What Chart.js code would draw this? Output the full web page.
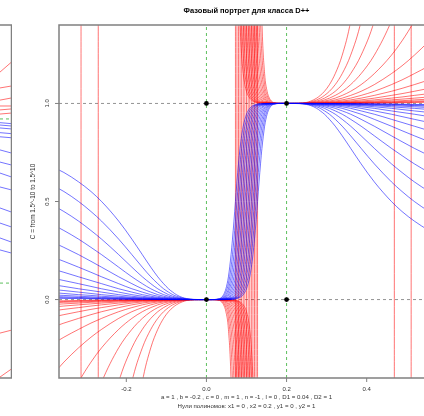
<!DOCTYPE html>
<html>
<head>
<meta charset="utf-8">
<script src="https://cdn.jsdelivr.net/npm/chart.js@4.4.0/dist/chart.umd.min.js"></script>
<style>
  html, body { margin: 0; padding: 0; background: #fff; width: 424px; height: 416px; overflow: hidden; }
  #side { position: absolute; left: 0; top: 0; }
  #chart { position: absolute; left: 0; top: 0; }
</style>
</head>
<body>
<canvas id="side" width="12" height="416"></canvas>
<canvas id="chart" width="460" height="416"></canvas>
<script>
// exponents of C (C = +/- 1.5^k), one red and one blue curve per value
const cPowers = [-7, -6, -5, -4, -3, -2, -1, 0, 1, 2, 3, 4, 5, 6, 7];

// x < 0
const xsLeft = [-0.4, -0.3558, -0.3191, -0.2882, -0.2617, -0.219, -0.1861, -0.16, -0.1389, -0.1215, -0.107,
  -0.0947, -0.0842, -0.0752, -0.0605, -0.0492, -0.0404, -0.0303, -0.0193, -0.0081, -0.0035, 0];

const blueLeft = [
  [0.692, 0.648, 0.6, 0.551, 0.5, 0.4, 0.308, 0.229, 0.165, 0.116, 0.081, 0.055, 0.038, 0.025, 0.011, 0.005, 0.002, 0.001, 0, 0, 0, 0],
  [0.6, 0.551, 0.5, 0.449, 0.4, 0.308, 0.229, 0.165, 0.116, 0.081, 0.055, 0.038, 0.025, 0.017, 0.008, 0.003, 0.002, 0, 0, 0, 0, 0],
  [0.5, 0.449, 0.4, 0.352, 0.308, 0.229, 0.165, 0.116, 0.081, 0.055, 0.038, 0.025, 0.017, 0.011, 0.005, 0.002, 0.001, 0, 0, 0, 0, 0],
  [0.4, 0.352, 0.308, 0.266, 0.229, 0.165, 0.116, 0.081, 0.055, 0.038, 0.025, 0.017, 0.011, 0.008, 0.003, 0.002, 0.001, 0, 0, 0, 0, 0],
  [0.308, 0.266, 0.229, 0.195, 0.165, 0.116, 0.081, 0.055, 0.038, 0.025, 0.017, 0.011, 0.008, 0.005, 0.002, 0.001, 0, 0, 0, 0, 0, 0],
  [0.229, 0.195, 0.165, 0.139, 0.116, 0.081, 0.055, 0.038, 0.025, 0.017, 0.011, 0.008, 0.005, 0.003, 0.002, 0.001, 0, 0, 0, 0, 0, 0],
  [0.165, 0.139, 0.116, 0.097, 0.081, 0.055, 0.038, 0.025, 0.017, 0.011, 0.008, 0.005, 0.003, 0.002, 0.001, 0, 0, 0, 0, 0, 0, 0],
  [0.116, 0.097, 0.081, 0.067, 0.055, 0.038, 0.025, 0.017, 0.011, 0.008, 0.005, 0.003, 0.002, 0.002, 0.001, 0, 0, 0, 0, 0, 0, 0],
  [0.081, 0.067, 0.055, 0.046, 0.038, 0.025, 0.017, 0.011, 0.008, 0.005, 0.003, 0.002, 0.002, 0.001, 0, 0, 0, 0, 0, 0, 0, 0],
  [0.055, 0.046, 0.038, 0.031, 0.025, 0.017, 0.011, 0.008, 0.005, 0.003, 0.002, 0.002, 0.001, 0.001, 0, 0, 0, 0, 0, 0, 0, 0],
  [0.038, 0.031, 0.025, 0.021, 0.017, 0.011, 0.008, 0.005, 0.003, 0.002, 0.002, 0.001, 0.001, 0, 0, 0, 0, 0, 0, 0, 0, 0],
  [0.025, 0.021, 0.017, 0.014, 0.011, 0.008, 0.005, 0.003, 0.002, 0.002, 0.001, 0.001, 0, 0, 0, 0, 0, 0, 0, 0, 0, 0],
  [0.017, 0.014, 0.011, 0.009, 0.008, 0.005, 0.003, 0.002, 0.002, 0.001, 0.001, 0, 0, 0, 0, 0, 0, 0, 0, 0, 0, 0],
  [0.011, 0.009, 0.008, 0.006, 0.005, 0.003, 0.002, 0.002, 0.001, 0.001, 0, 0, 0, 0, 0, 0, 0, 0, 0, 0, 0, 0],
  [0.008, 0.006, 0.005, 0.004, 0.003, 0.002, 0.002, 0.001, 0.001, 0, 0, 0, 0, 0, 0, 0, 0, 0, 0, 0, 0, 0]
];

const redLeft = [
  [1.8, 2.194, 3, 5.45, null, -2, -0.8, -0.421, -0.246, -0.152, -0.096, -0.062, -0.041, -0.027, -0.012, -0.005, -0.002, -0.001, 0, 0, 0, 0],
  [3, 5.45, null, -4.45, -2, -0.8, -0.421, -0.246, -0.152, -0.096, -0.062, -0.041, -0.027, -0.018, -0.008, -0.003, -0.002, 0, 0, 0, 0, 0],
  [null, -4.45, -2, -1.195, -0.8, -0.421, -0.246, -0.152, -0.096, -0.062, -0.041, -0.027, -0.018, -0.012, -0.005, -0.002, -0.001, 0, 0, 0, 0, 0],
  [-2, -1.195, -0.8, -0.57, -0.421, -0.246, -0.152, -0.096, -0.062, -0.041, -0.027, -0.018, -0.012, -0.008, -0.003, -0.002, -0.001, 0, 0, 0, 0, 0],
  [-0.8, -0.57, -0.421, -0.319, -0.246, -0.152, -0.096, -0.062, -0.041, -0.027, -0.018, -0.012, -0.008, -0.005, -0.002, -0.001, 0, 0, 0, 0, 0, 0],
  [-0.421, -0.319, -0.246, -0.192, -0.152, -0.096, -0.062, -0.041, -0.027, -0.018, -0.012, -0.008, -0.005, -0.003, -0.002, -0.001, 0, 0, 0, 0, 0, 0],
  [-0.246, -0.192, -0.152, -0.12, -0.096, -0.062, -0.041, -0.027, -0.018, -0.012, -0.008, -0.005, -0.003, -0.002, -0.001, 0, 0, 0, 0, 0, 0, 0],
  [-0.152, -0.12, -0.096, -0.077, -0.062, -0.041, -0.027, -0.018, -0.012, -0.008, -0.005, -0.003, -0.002, -0.002, -0.001, 0, 0, 0, 0, 0, 0, 0],
  [-0.096, -0.077, -0.062, -0.05, -0.041, -0.027, -0.018, -0.012, -0.008, -0.005, -0.003, -0.002, -0.002, -0.001, 0, 0, 0, 0, 0, 0, 0, 0],
  [-0.062, -0.05, -0.041, -0.033, -0.027, -0.018, -0.012, -0.008, -0.005, -0.003, -0.002, -0.002, -0.001, -0.001, 0, 0, 0, 0, 0, 0, 0, 0],
  [-0.041, -0.033, -0.027, -0.022, -0.018, -0.012, -0.008, -0.005, -0.003, -0.002, -0.002, -0.001, -0.001, 0, 0, 0, 0, 0, 0, 0, 0, 0],
  [-0.027, -0.022, -0.018, -0.014, -0.012, -0.008, -0.005, -0.003, -0.002, -0.002, -0.001, -0.001, 0, 0, 0, 0, 0, 0, 0, 0, 0, 0],
  [-0.018, -0.014, -0.012, -0.01, -0.008, -0.005, -0.003, -0.002, -0.002, -0.001, -0.001, 0, 0, 0, 0, 0, 0, 0, 0, 0, 0, 0],
  [-0.012, -0.01, -0.008, -0.006, -0.005, -0.003, -0.002, -0.002, -0.001, -0.001, 0, 0, 0, 0, 0, 0, 0, 0, 0, 0, 0, 0],
  [-0.008, -0.006, -0.005, -0.004, -0.003, -0.002, -0.002, -0.001, -0.001, 0, 0, 0, 0, 0, 0, 0, 0, 0, 0, 0, 0, 0]
];

// 0 < x < 0.2
const xsMid = [0, 0.0161, 0.033, 0.0377, 0.0429, 0.0486, 0.0549, 0.0615, 0.065, 0.0687, 0.0724, 0.0761, 0.08, 0.0839,
  0.0879, 0.0919, 0.096, 0.1, 0.104, 0.1081, 0.1121, 0.1161, 0.12, 0.1239, 0.1276, 0.1313, 0.135, 0.1385, 0.1452,
  0.1514, 0.1571, 0.1623, 0.167, 0.1839, 0.2];

const blueMid = [
  [0, 0, 0.005, 0.011, 0.025, 0.055, 0.116, 0.229, 0.308, 0.4, 0.5, 0.6, 0.692, 0.771, 0.835, 0.884, 0.919, 0.945, 0.962, 0.975, 0.983, 0.989, 0.992, 0.995, 0.997, 0.998, 0.998, 0.999, 1, 1, 1, 1, 1, 1, 1],
  [0, 0, 0.003, 0.008, 0.017, 0.038, 0.081, 0.165, 0.229, 0.308, 0.4, 0.5, 0.6, 0.692, 0.771, 0.835, 0.884, 0.919, 0.945, 0.962, 0.975, 0.983, 0.989, 0.992, 0.995, 0.997, 0.998, 0.998, 0.999, 1, 1, 1, 1, 1, 1],
  [0, 0, 0.002, 0.005, 0.011, 0.025, 0.055, 0.116, 0.165, 0.229, 0.308, 0.4, 0.5, 0.6, 0.692, 0.771, 0.835, 0.884, 0.919, 0.945, 0.962, 0.975, 0.983, 0.989, 0.992, 0.995, 0.997, 0.998, 0.999, 1, 1, 1, 1, 1, 1],
  [0, 0, 0.002, 0.003, 0.008, 0.017, 0.038, 0.081, 0.116, 0.165, 0.229, 0.308, 0.4, 0.5, 0.6, 0.692, 0.771, 0.835, 0.884, 0.919, 0.945, 0.962, 0.975, 0.983, 0.989, 0.992, 0.995, 0.997, 0.998, 0.999, 1, 1, 1, 1, 1],
  [0, 0, 0.001, 0.002, 0.005, 0.011, 0.025, 0.055, 0.081, 0.116, 0.165, 0.229, 0.308, 0.4, 0.5, 0.6, 0.692, 0.771, 0.835, 0.884, 0.919, 0.945, 0.962, 0.975, 0.983, 0.989, 0.992, 0.995, 0.998, 0.999, 1, 1, 1, 1, 1],
  [0, 0, 0.001, 0.002, 0.003, 0.008, 0.017, 0.038, 0.055, 0.081, 0.116, 0.165, 0.229, 0.308, 0.4, 0.5, 0.6, 0.692, 0.771, 0.835, 0.884, 0.919, 0.945, 0.962, 0.975, 0.983, 0.989, 0.992, 0.997, 0.998, 0.999, 1, 1, 1, 1],
  [0, 0, 0, 0.001, 0.002, 0.005, 0.011, 0.025, 0.038, 0.055, 0.081, 0.116, 0.165, 0.229, 0.308, 0.4, 0.5, 0.6, 0.692, 0.771, 0.835, 0.884, 0.919, 0.945, 0.962, 0.975, 0.983, 0.989, 0.995, 0.998, 0.999, 1, 1, 1, 1],
  [0, 0, 0, 0.001, 0.002, 0.003, 0.008, 0.017, 0.025, 0.038, 0.055, 0.081, 0.116, 0.165, 0.229, 0.308, 0.4, 0.5, 0.6, 0.692, 0.771, 0.835, 0.884, 0.919, 0.945, 0.962, 0.975, 0.983, 0.992, 0.997, 0.998, 0.999, 1, 1, 1],
  [0, 0, 0, 0, 0.001, 0.002, 0.005, 0.011, 0.017, 0.025, 0.038, 0.055, 0.081, 0.116, 0.165, 0.229, 0.308, 0.4, 0.5, 0.6, 0.692, 0.771, 0.835, 0.884, 0.919, 0.945, 0.962, 0.975, 0.989, 0.995, 0.998, 0.999, 1, 1, 1],
  [0, 0, 0, 0, 0.001, 0.002, 0.003, 0.008, 0.011, 0.017, 0.025, 0.038, 0.055, 0.081, 0.116, 0.165, 0.229, 0.308, 0.4, 0.5, 0.6, 0.692, 0.771, 0.835, 0.884, 0.919, 0.945, 0.962, 0.983, 0.992, 0.997, 0.998, 0.999, 1, 1],
  [0, 0, 0, 0, 0, 0.001, 0.002, 0.005, 0.008, 0.011, 0.017, 0.025, 0.038, 0.055, 0.081, 0.116, 0.165, 0.229, 0.308, 0.4, 0.5, 0.6, 0.692, 0.771, 0.835, 0.884, 0.919, 0.945, 0.975, 0.989, 0.995, 0.998, 0.999, 1, 1],
  [0, 0, 0, 0, 0, 0.001, 0.002, 0.003, 0.005, 0.008, 0.011, 0.017, 0.025, 0.038, 0.055, 0.081, 0.116, 0.165, 0.229, 0.308, 0.4, 0.5, 0.6, 0.692, 0.771, 0.835, 0.884, 0.919, 0.962, 0.983, 0.992, 0.997, 0.998, 1, 1],
  [0, 0, 0, 0, 0, 0, 0.001, 0.002, 0.003, 0.005, 0.008, 0.011, 0.017, 0.025, 0.038, 0.055, 0.081, 0.116, 0.165, 0.229, 0.308, 0.4, 0.5, 0.6, 0.692, 0.771, 0.835, 0.884, 0.945, 0.975, 0.989, 0.995, 0.998, 1, 1],
  [0, 0, 0, 0, 0, 0, 0.001, 0.002, 0.002, 0.003, 0.005, 0.008, 0.011, 0.017, 0.025, 0.038, 0.055, 0.081, 0.116, 0.165, 0.229, 0.308, 0.4, 0.5, 0.6, 0.692, 0.771, 0.835, 0.919, 0.962, 0.983, 0.992, 0.997, 1, 1],
  [0, 0, 0, 0, 0, 0, 0, 0.001, 0.002, 0.002, 0.003, 0.005, 0.008, 0.011, 0.017, 0.025, 0.038, 0.055, 0.081, 0.116, 0.165, 0.229, 0.308, 0.4, 0.5, 0.6, 0.692, 0.771, 0.884, 0.945, 0.975, 0.989, 0.995, 1, 1]
];

const redMid = [
  [0, 0, -0.005, -0.012, -0.027, -0.062, -0.152, -0.421, -0.8, -2, null, 3, 1.8, 1.421, 1.246, 1.152, 1.096, 1.062, 1.041, 1.027, 1.018, 1.012, 1.008, 1.005, 1.003, 1.002, 1.002, 1.001, 1, 1, 1, 1, 1, 1, 1],
  [0, 0, -0.003, -0.008, -0.018, -0.041, -0.096, -0.246, -0.421, -0.8, -2, null, 3, 1.8, 1.421, 1.246, 1.152, 1.096, 1.062, 1.041, 1.027, 1.018, 1.012, 1.008, 1.005, 1.003, 1.002, 1.002, 1.001, 1, 1, 1, 1, 1, 1],
  [0, 0, -0.002, -0.005, -0.012, -0.027, -0.062, -0.152, -0.246, -0.421, -0.8, -2, null, 3, 1.8, 1.421, 1.246, 1.152, 1.096, 1.062, 1.041, 1.027, 1.018, 1.012, 1.008, 1.005, 1.003, 1.002, 1.001, 1, 1, 1, 1, 1, 1],
  [0, 0, -0.002, -0.003, -0.008, -0.018, -0.041, -0.096, -0.152, -0.246, -0.421, -0.8, -2, null, 3, 1.8, 1.421, 1.246, 1.152, 1.096, 1.062, 1.041, 1.027, 1.018, 1.012, 1.008, 1.005, 1.003, 1.002, 1.001, 1, 1, 1, 1, 1],
  [0, 0, -0.001, -0.002, -0.005, -0.012, -0.027, -0.062, -0.096, -0.152, -0.246, -0.421, -0.8, -2, null, 3, 1.8, 1.421, 1.246, 1.152, 1.096, 1.062, 1.041, 1.027, 1.018, 1.012, 1.008, 1.005, 1.002, 1.001, 1, 1, 1, 1, 1],
  [0, 0, -0.001, -0.002, -0.003, -0.008, -0.018, -0.041, -0.062, -0.096, -0.152, -0.246, -0.421, -0.8, -2, null, 3, 1.8, 1.421, 1.246, 1.152, 1.096, 1.062, 1.041, 1.027, 1.018, 1.012, 1.008, 1.003, 1.002, 1.001, 1, 1, 1, 1],
  [0, 0, 0, -0.001, -0.002, -0.005, -0.012, -0.027, -0.041, -0.062, -0.096, -0.152, -0.246, -0.421, -0.8, -2, null, 3, 1.8, 1.421, 1.246, 1.152, 1.096, 1.062, 1.041, 1.027, 1.018, 1.012, 1.005, 1.002, 1.001, 1, 1, 1, 1],
  [0, 0, 0, -0.001, -0.002, -0.003, -0.008, -0.018, -0.027, -0.041, -0.062, -0.096, -0.152, -0.246, -0.421, -0.8, -2, null, 3, 1.8, 1.421, 1.246, 1.152, 1.096, 1.062, 1.041, 1.027, 1.018, 1.008, 1.003, 1.002, 1.001, 1, 1, 1],
  [0, 0, 0, 0, -0.001, -0.002, -0.005, -0.012, -0.018, -0.027, -0.041, -0.062, -0.096, -0.152, -0.246, -0.421, -0.8, -2, null, 3, 1.8, 1.421, 1.246, 1.152, 1.096, 1.062, 1.041, 1.027, 1.012, 1.005, 1.002, 1.001, 1, 1, 1],
  [0, 0, 0, 0, -0.001, -0.002, -0.003, -0.008, -0.012, -0.018, -0.027, -0.041, -0.062, -0.096, -0.152, -0.246, -0.421, -0.8, -2, null, 3, 1.8, 1.421, 1.246, 1.152, 1.096, 1.062, 1.041, 1.018, 1.008, 1.003, 1.002, 1.001, 1, 1],
  [0, 0, 0, 0, 0, -0.001, -0.002, -0.005, -0.008, -0.012, -0.018, -0.027, -0.041, -0.062, -0.096, -0.152, -0.246, -0.421, -0.8, -2, null, 3, 1.8, 1.421, 1.246, 1.152, 1.096, 1.062, 1.027, 1.012, 1.005, 1.002, 1.001, 1, 1],
  [0, 0, 0, 0, 0, -0.001, -0.002, -0.003, -0.005, -0.008, -0.012, -0.018, -0.027, -0.041, -0.062, -0.096, -0.152, -0.246, -0.421, -0.8, -2, null, 3, 1.8, 1.421, 1.246, 1.152, 1.096, 1.041, 1.018, 1.008, 1.003, 1.002, 1, 1],
  [0, 0, 0, 0, 0, 0, -0.001, -0.002, -0.003, -0.005, -0.008, -0.012, -0.018, -0.027, -0.041, -0.062, -0.096, -0.152, -0.246, -0.421, -0.8, -2, null, 3, 1.8, 1.421, 1.246, 1.152, 1.062, 1.027, 1.012, 1.005, 1.002, 1, 1],
  [0, 0, 0, 0, 0, 0, -0.001, -0.002, -0.002, -0.003, -0.005, -0.008, -0.012, -0.018, -0.027, -0.041, -0.062, -0.096, -0.152, -0.246, -0.421, -0.8, -2, null, 3, 1.8, 1.421, 1.246, 1.096, 1.041, 1.018, 1.008, 1.003, 1, 1],
  [0, 0, 0, 0, 0, 0, 0, -0.001, -0.002, -0.002, -0.003, -0.005, -0.008, -0.012, -0.018, -0.027, -0.041, -0.062, -0.096, -0.152, -0.246, -0.421, -0.8, -2, null, 3, 1.8, 1.421, 1.152, 1.062, 1.027, 1.012, 1.005, 1, 1]
];

// x > 0.2
const xsRight = [0.2, 0.2081, 0.2192, 0.2303, 0.2404, 0.2492, 0.2605, 0.2752, 0.2842, 0.2947, 0.307, 0.3215,
  0.3389, 0.36, 0.3861, 0.419, 0.4618, 0.4882, 0.519, 0.5558, 0.6];

const blueRight = [
  [1, 1, 1, 1, 1, 1, 1, 1, 1, 1, 1, 1, 0.999, 0.999, 0.998, 0.998, 0.997, 0.996, 0.995, 0.994, 0.992],
  [1, 1, 1, 1, 1, 1, 1, 1, 1, 1, 1, 0.999, 0.999, 0.998, 0.998, 0.997, 0.995, 0.994, 0.992, 0.991, 0.989],
  [1, 1, 1, 1, 1, 1, 1, 1, 1, 1, 0.999, 0.999, 0.998, 0.998, 0.997, 0.995, 0.992, 0.991, 0.989, 0.986, 0.983],
  [1, 1, 1, 1, 1, 1, 1, 1, 1, 0.999, 0.999, 0.998, 0.998, 0.997, 0.995, 0.992, 0.989, 0.986, 0.983, 0.979, 0.975],
  [1, 1, 1, 1, 1, 1, 1, 1, 0.999, 0.999, 0.998, 0.998, 0.997, 0.995, 0.992, 0.989, 0.983, 0.979, 0.975, 0.969, 0.962],
  [1, 1, 1, 1, 1, 1, 1, 0.999, 0.999, 0.998, 0.998, 0.997, 0.995, 0.992, 0.989, 0.983, 0.975, 0.969, 0.962, 0.954, 0.945],
  [1, 1, 1, 1, 1, 1, 1, 0.999, 0.998, 0.998, 0.997, 0.995, 0.992, 0.989, 0.983, 0.975, 0.962, 0.954, 0.945, 0.933, 0.919],
  [1, 1, 1, 1, 1, 1, 0.999, 0.998, 0.998, 0.997, 0.995, 0.992, 0.989, 0.983, 0.975, 0.962, 0.945, 0.933, 0.919, 0.903, 0.884],
  [1, 1, 1, 1, 1, 1, 0.999, 0.998, 0.997, 0.995, 0.992, 0.989, 0.983, 0.975, 0.962, 0.945, 0.919, 0.903, 0.884, 0.861, 0.835],
  [1, 1, 1, 1, 1, 0.999, 0.998, 0.997, 0.995, 0.992, 0.989, 0.983, 0.975, 0.962, 0.945, 0.919, 0.884, 0.861, 0.835, 0.805, 0.771],
  [1, 1, 1, 1, 1, 0.999, 0.998, 0.995, 0.992, 0.989, 0.983, 0.975, 0.962, 0.945, 0.919, 0.884, 0.835, 0.805, 0.771, 0.734, 0.692],
  [1, 1, 1, 1, 0.999, 0.998, 0.997, 0.992, 0.989, 0.983, 0.975, 0.962, 0.945, 0.919, 0.884, 0.835, 0.771, 0.734, 0.692, 0.648, 0.6],
  [1, 1, 1, 1, 0.999, 0.998, 0.995, 0.989, 0.983, 0.975, 0.962, 0.945, 0.919, 0.884, 0.835, 0.771, 0.692, 0.648, 0.6, 0.551, 0.5],
  [1, 1, 1, 1, 0.998, 0.997, 0.992, 0.983, 0.975, 0.962, 0.945, 0.919, 0.884, 0.835, 0.771, 0.692, 0.6, 0.551, 0.5, 0.449, 0.4],
  [1, 1, 1, 0.999, 0.998, 0.995, 0.989, 0.975, 0.962, 0.945, 0.919, 0.884, 0.835, 0.771, 0.692, 0.6, 0.5, 0.449, 0.4, 0.352, 0.308]
];

const redRight = [
  [1, 1, 1, 1, 1, 1, 1, 1, 1, 1, 1, 1, 1.001, 1.001, 1.002, 1.002, 1.003, 1.004, 1.005, 1.006, 1.008],
  [1, 1, 1, 1, 1, 1, 1, 1, 1, 1, 1, 1.001, 1.001, 1.002, 1.002, 1.003, 1.005, 1.006, 1.008, 1.01, 1.012],
  [1, 1, 1, 1, 1, 1, 1, 1, 1, 1, 1.001, 1.001, 1.002, 1.002, 1.003, 1.005, 1.008, 1.01, 1.012, 1.014, 1.018],
  [1, 1, 1, 1, 1, 1, 1, 1, 1, 1.001, 1.001, 1.002, 1.002, 1.003, 1.005, 1.008, 1.012, 1.014, 1.018, 1.022, 1.027],
  [1, 1, 1, 1, 1, 1, 1, 1, 1.001, 1.001, 1.002, 1.002, 1.003, 1.005, 1.008, 1.012, 1.018, 1.022, 1.027, 1.033, 1.041],
  [1, 1, 1, 1, 1, 1, 1, 1.001, 1.001, 1.002, 1.002, 1.003, 1.005, 1.008, 1.012, 1.018, 1.027, 1.033, 1.041, 1.05, 1.062],
  [1, 1, 1, 1, 1, 1, 1, 1.001, 1.002, 1.002, 1.003, 1.005, 1.008, 1.012, 1.018, 1.027, 1.041, 1.05, 1.062, 1.077, 1.096],
  [1, 1, 1, 1, 1, 1, 1.001, 1.002, 1.002, 1.003, 1.005, 1.008, 1.012, 1.018, 1.027, 1.041, 1.062, 1.077, 1.096, 1.12, 1.152],
  [1, 1, 1, 1, 1, 1, 1.001, 1.002, 1.003, 1.005, 1.008, 1.012, 1.018, 1.027, 1.041, 1.062, 1.096, 1.12, 1.152, 1.192, 1.246],
  [1, 1, 1, 1, 1, 1.001, 1.002, 1.003, 1.005, 1.008, 1.012, 1.018, 1.027, 1.041, 1.062, 1.096, 1.152, 1.192, 1.246, 1.319, 1.421],
  [1, 1, 1, 1, 1, 1.001, 1.002, 1.005, 1.008, 1.012, 1.018, 1.027, 1.041, 1.062, 1.096, 1.152, 1.246, 1.319, 1.421, 1.57, 1.8],
  [1, 1, 1, 1, 1.001, 1.002, 1.003, 1.008, 1.012, 1.018, 1.027, 1.041, 1.062, 1.096, 1.152, 1.246, 1.421, 1.57, 1.8, 2.194, 3],
  [1, 1, 1, 1, 1.001, 1.002, 1.005, 1.012, 1.018, 1.027, 1.041, 1.062, 1.096, 1.152, 1.246, 1.421, 1.8, 2.194, 3, 5.45, null],
  [1, 1, 1, 1, 1.002, 1.003, 1.008, 1.018, 1.027, 1.041, 1.062, 1.096, 1.152, 1.246, 1.421, 1.8, 3, 5.45, null, -4.45, -2],
  [1, 1, 1, 1.001, 1.002, 1.005, 1.012, 1.027, 1.041, 1.062, 1.096, 1.152, 1.246, 1.421, 1.8, 3, null, -4.45, -2, -1.195, -0.8]
];

// jumps of the red curves through +/- infinity
const poleX = [-0.313, -0.27, 0.0724, 0.0761, 0.08, 0.0839, 0.0879, 0.0919, 0.0959, 0.1, 0.1041, 0.1081,
  0.1121, 0.1161, 0.12, 0.1239, 0.1276, 0.469, 0.511];

// zeros of the polynomials
const rootsX = [0, 0.2];
const rootsY = [0, 1];

const xTicks = [-0.2, 0, 0.2, 0.4];
const yTicks = [0, 0.5, 1];

const titleText = 'Фазовый портрет для класса D++';
const subText = ['a = 1 , b = -0.2 , c = 0 , m = 1 , n = -1 , l = 0 , D1 = 0.04 , D2 = 1',
  'Нули полиномов: x1 = 0 , x2 = 0.2 , y1 = 0 , y2 = 1'];
const yTitle = 'C = from 1.5^-10 to 1.5^10';

// edge of the neighbouring panel
const sideX = [0, 1];
const sideRed = [[1.16, 1.211], [1.079, 1.089], [1.017, 1.028], [0.987, 0.987], [0.967, 0.972], [0.946, 0.951],
  [-0.171, -0.156], [-0.395, -0.354]];
const sideBlue = [[0.902, 0.897], [0.89, 0.885], [0.875, 0.87], [0.851, 0.846], [0.83, 0.825], [0.763, 0.747],
  [0.701, 0.686], [0.645, 0.625], [0.574, 0.559], [0.467, 0.446], [0.39, 0.37], [0.314, 0.293], [0.253, 0.237]];
const sideGuides = [0.921, 0.084];

const X_MIN = -0.368, X_MAX = 0.568, Y_MIN = -0.4, Y_MAX = 1.4;
const RED = 'rgba(255,0,0,0.55)';
const BLUE = 'rgba(0,0,255,0.55)';
const GREEN = 'rgba(40,170,40,0.75)';
const GREY = 'rgba(120,120,120,0.8)';
const FONT = '"Liberation Sans", Arial, Helvetica, sans-serif';

function pts(xs, ys) {
  return xs.map((x, i) => ({ x, y: ys[i] }));
}

function curve(data, color, order) {
  return {
    data, order,
    showLine: true,
    borderColor: color,
    borderWidth: 1,
    pointRadius: 0,
    fill: false,
    spanGaps: false,
    cubicInterpolationMode: 'monotone'
  };
}

function guide(data, color, dash, order) {
  return { data, order, showLine: true, borderColor: color, borderWidth: 1, borderDash: dash, pointRadius: 0 };
}

const datasets = [];

rootsY.forEach(v => datasets.push(guide([{ x: X_MIN, y: v }, { x: X_MAX, y: v }], GREY, [3, 3], 6)));
rootsX.forEach(v => datasets.push(guide([{ x: v, y: Y_MIN }, { x: v, y: Y_MAX }], GREEN, [3, 3], 6)));

poleX.forEach(x => datasets.push(curve([{ x, y: Y_MIN - 0.1 }, { x, y: Y_MAX + 0.1 }], RED, 5)));

cPowers.forEach((k, i) => {
  datasets.push(curve(pts(xsLeft, redLeft[i]), RED, 4));
  datasets.push(curve(pts(xsMid, redMid[i]), RED, 4));
  datasets.push(curve(pts(xsRight, redRight[i]), RED, 4));
});
cPowers.forEach((k, i) => {
  datasets.push(curve(pts(xsLeft, blueLeft[i]), BLUE, 3));
  datasets.push(curve(pts(xsMid, blueMid[i]), BLUE, 3));
  datasets.push(curve(pts(xsRight, blueRight[i]), BLUE, 3));
});

// equilibrium points
const eq = [];
rootsX.forEach(x => rootsY.forEach(y => eq.push({ x, y })));
datasets.push({ data: eq, order: 1, showLine: false, pointRadius: 2.4, pointBackgroundColor: '#000', pointBorderWidth: 0 });

function line(ctx, x1, y1, x2, y2) {
  ctx.beginPath();
  ctx.moveTo(x1, y1);
  ctx.lineTo(x2, y2);
  ctx.stroke();
}

function vtext(ctx, s, x, y) {
  ctx.save();
  ctx.translate(x, y);
  ctx.rotate(-Math.PI / 2);
  ctx.fillText(s, 0, 0);
  ctx.restore();
}

const frame = {
  id: 'frame',
  afterDraw(chart) {
    const { ctx, chartArea: a, scales: { x, y } } = chart;
    ctx.save();
    ctx.strokeStyle = '#808080';
    ctx.lineWidth = 1.5;
    ctx.beginPath();
    ctx.moveTo(a.right + 10, a.top);
    ctx.lineTo(a.left, a.top);
    ctx.lineTo(a.left, a.bottom);
    ctx.lineTo(a.right + 10, a.bottom);
    ctx.stroke();

    ctx.lineWidth = 1;
    xTicks.forEach(v => { const px = x.getPixelForValue(v); line(ctx, px, a.bottom, px, a.bottom + 4); });
    yTicks.forEach(v => { const py = y.getPixelForValue(v); line(ctx, a.left - 4, py, a.left, py); });

    ctx.fillStyle = '#333';
    ctx.textAlign = 'center';
    ctx.textBaseline = 'middle';
    ctx.font = '6px ' + FONT;
    xTicks.forEach(v => ctx.fillText(v.toFixed(1), x.getPixelForValue(v), a.bottom + 11.5));
    yTicks.forEach(v => vtext(ctx, v.toFixed(1), a.left - 11.5, y.getPixelForValue(v)));

    const cx = (a.left + a.right) / 2;
    ctx.font = '6.1px ' + FONT;
    ctx.fillText(subText[0], cx, a.bottom + 19.5);
    ctx.fillText(subText[1], cx, a.bottom + 28);
    ctx.font = '6.4px ' + FONT;
    vtext(ctx, yTitle, a.left - 26, (a.top + a.bottom) / 2);

    ctx.fillStyle = '#000';
    ctx.font = 'bold 7.5px ' + FONT;
    ctx.fillText(titleText, cx, a.top - 14.5);
    ctx.restore();
  }
};

new Chart(document.getElementById('chart'), {
  type: 'scatter',
  data: { datasets },
  options: {
    responsive: false,
    animation: false,
    events: [],
    layout: { padding: { left: 59, right: 26, top: 25, bottom: 38 } },
    plugins: { legend: { display: false }, tooltip: { enabled: false }, title: { display: false } },
    scales: {
      x: { type: 'linear', display: false, min: X_MIN, max: X_MAX },
      y: { type: 'linear', display: false, min: Y_MIN, max: Y_MAX }
    }
  },
  plugins: [frame]
});

// neighbouring panel, only its right edge is in view
const sideSets = [];
sideGuides.forEach(v => sideSets.push(guide(pts(sideX, [v, v]), GREEN, [3, 3], 3)));
sideRed.forEach(ys => sideSets.push(curve(pts(sideX, ys), RED, 2)));
sideBlue.forEach(ys => sideSets.push(curve(pts(sideX, ys), BLUE, 2)));

const sideFrame = {
  id: 'sideFrame',
  afterDraw(chart) {
    const { ctx, chartArea: a } = chart;
    ctx.save();
    ctx.strokeStyle = '#808080';
    ctx.lineWidth = 1.5;
    ctx.beginPath();
    ctx.moveTo(a.left - 5, a.top);
    ctx.lineTo(a.right, a.top);
    ctx.lineTo(a.right, a.bottom);
    ctx.lineTo(a.left - 5, a.bottom);
    ctx.stroke();
    ctx.restore();
  }
};

new Chart(document.getElementById('side'), {
  type: 'scatter',
  data: { datasets: sideSets },
  options: {
    responsive: false,
    animation: false,
    events: [],
    layout: { padding: { left: 0, right: 0.5, top: 25, bottom: 38 } },
    plugins: { legend: { display: false }, tooltip: { enabled: false } },
    scales: {
      x: { type: 'linear', display: false, min: 0, max: 1 },
      y: { type: 'linear', display: false, min: Y_MIN, max: Y_MAX }
    }
  },
  plugins: [sideFrame]
});
</script>
</body>
</html>
